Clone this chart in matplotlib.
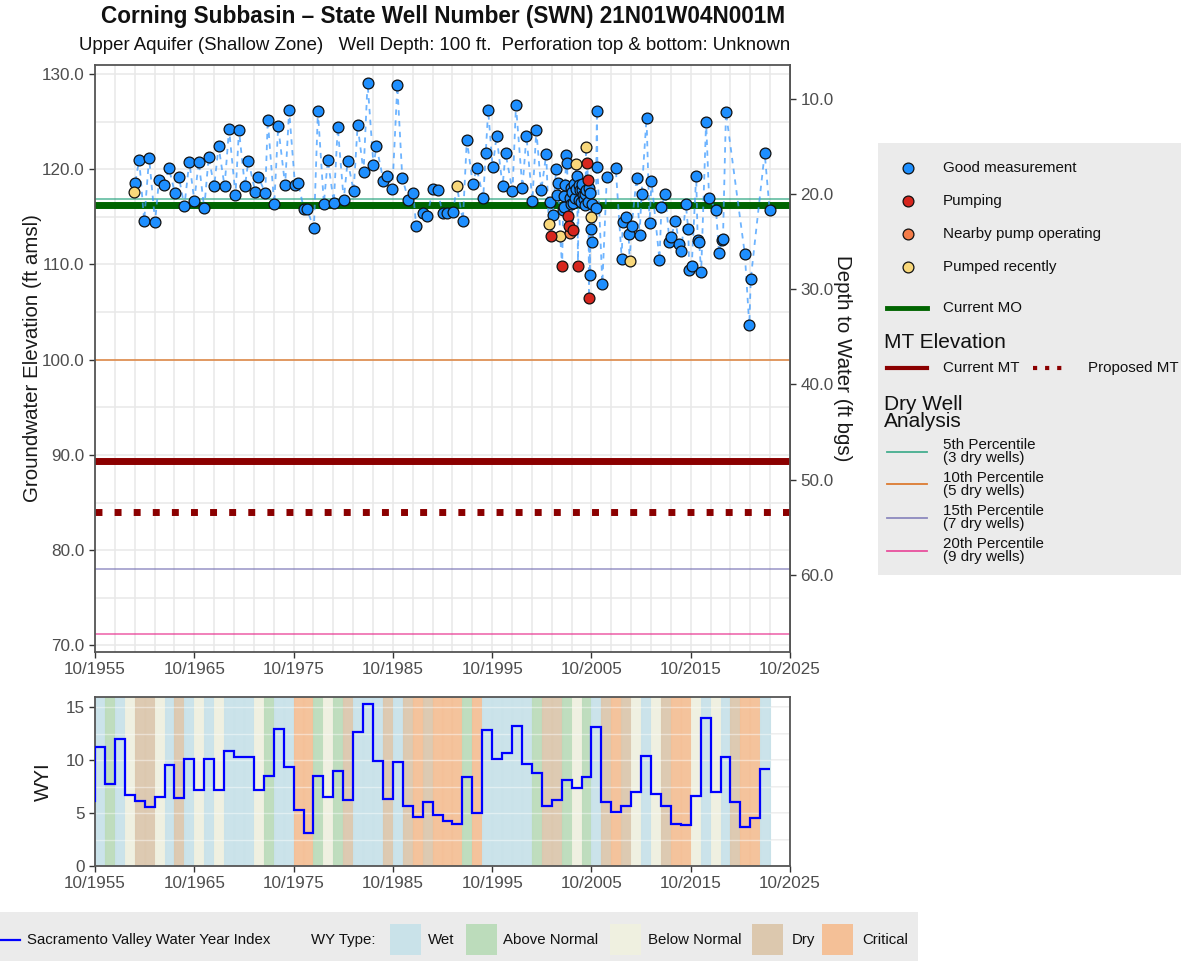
import matplotlib
matplotlib.use("Agg")
import matplotlib.pyplot as plt
from matplotlib.patches import Rectangle
import numpy as np

plt.rcParams['font.family'] = ['Liberation Sans', 'DejaVu Sans']

# ---- well hydrograph data (decimal year, ft amsl, quality code) ----
# G = good measurement, P = pumping, N = nearby pump operating, R = pumped recently
meas_date = [
    1959.65, 1959.8, 1960.2, 1960.7, 1961.2, 1961.8, 1962.2, 1962.7, 1963.2, 1963.8,
    1964.2, 1964.75, 1965.25, 1965.75, 1966.2, 1966.75, 1967.2, 1967.75, 1968.2, 1968.8,
    1969.25, 1969.9, 1970.25, 1970.85, 1971.2, 1971.9, 1972.2, 1972.9, 1973.15, 1973.8,
    1974.2, 1974.9, 1975.3, 1975.9, 1976.2, 1976.8, 1977.1, 1977.8, 1978.2, 1978.8,
    1979.2, 1979.8, 1980.2, 1980.8, 1981.2, 1981.8, 1982.2, 1982.8, 1983.2, 1983.8,
    1984.1, 1984.8, 1985.2, 1985.7, 1986.2, 1986.7, 1987.3, 1987.8, 1988.1, 1988.8,
    1989.2, 1989.8, 1990.25, 1990.75, 1991.25, 1991.8, 1992.2, 1992.8, 1993.2, 1993.8,
    1994.2, 1994.85, 1995.1, 1995.35, 1995.8, 1996.2, 1996.8, 1997.1, 1997.8, 1998.15,
    1998.8, 1999.2, 1999.8, 2000.2, 2000.7, 2001.2, 2001.45, 2001.6, 2001.7, 2001.85,
    2002.2, 2002.3, 2002.4, 2002.6, 2002.8, 2002.9, 2003.0, 2003.2, 2003.3, 2003.4,
    2003.5, 2003.55, 2003.6, 2003.7, 2003.85, 2003.9, 2004.0, 2004.2, 2004.3, 2004.4,
    2004.5, 2004.6, 2004.75, 2004.9, 2005.0, 2005.2, 2005.35, 2005.4, 2005.45, 2005.5,
    2005.55, 2005.6, 2005.65, 2005.7, 2005.75, 2005.8, 2005.85, 2006.2, 2006.3, 2006.35,
    2006.85, 2007.3, 2008.2, 2008.8, 2008.9, 2009.25, 2009.5, 2009.6, 2009.8, 2010.3,
    2010.6, 2010.8, 2011.3, 2011.6, 2011.8, 2012.6, 2012.8, 2013.2, 2013.6, 2013.8,
    2014.2, 2014.6, 2014.8, 2015.25, 2015.5, 2015.6, 2015.85, 2016.3, 2016.45, 2016.6,
    2016.8, 2017.3, 2017.6, 2018.3, 2018.6, 2018.9, 2019.0, 2019.3, 2021.2, 2021.65,
    2021.8, 2023.2, 2023.7,
    # extra readings inside the dense 2002-2005 cluster
    2002.95, 2003.1, 2003.65, 2003.75, 2004.1, 2004.15, 2004.45, 2004.7, 2004.8, 2005.1,
    2005.15, 2005.25,
]
meas_elev = [
    117.6, 118.6, 121.0, 114.6, 121.2, 114.5, 118.9, 118.3, 120.1, 117.5,
    119.2, 116.1, 120.8, 116.7, 120.8, 115.9, 121.3, 118.2, 122.4, 118.2,
    124.2, 117.3, 124.1, 118.2, 120.9, 117.6, 119.2, 117.5, 125.2, 116.3,
    124.5, 118.3, 126.2, 118.3, 118.6, 115.8, 115.8, 113.8, 126.1, 116.4,
    121.0, 116.5, 124.4, 116.8, 120.9, 117.7, 124.6, 119.7, 129.1, 120.4,
    122.4, 118.8, 119.3, 117.9, 128.8, 119.1, 116.8, 117.5, 114.0, 115.4,
    115.1, 117.9, 117.8, 115.4, 115.4, 115.5, 118.2, 114.6, 123.1, 118.5,
    120.1, 117.0, 121.7, 126.2, 120.2, 123.5, 118.2, 121.7, 117.7, 126.7,
    118.0, 123.5, 116.7, 124.1, 117.8, 121.6, 114.2, 116.6, 113.0, 115.2,
    120.0, 117.3, 118.6, 113.0, 109.8, 115.7, 116.0, 121.5, 120.7, 115.1,
    114.0, 113.3, 117.0, 118.0, 113.6, 116.5, 118.4, 120.5, 119.3, 109.8,
    116.8, 117.8, 117.8, 117.3, 116.9, 122.3, 120.7, 116.6, 118.9, 106.5,
    118.0, 108.9, 117.5, 115.0, 113.7, 116.4, 112.4, 115.9, 126.1, 120.2,
    108.0, 119.2, 120.1, 110.6, 114.5, 115.0, 113.2, 110.4, 114.0, 119.1,
    113.1, 117.4, 125.4, 114.4, 118.8, 110.5, 116.0, 117.4, 112.4, 112.9,
    114.6, 112.1, 111.4, 116.4, 113.7, 109.4, 109.8, 119.3, 112.6, 112.4,
    109.2, 125.0, 117.0, 115.7, 111.2, 112.6, 112.7, 126.0, 111.1, 103.6,
    108.5, 121.7, 115.7,
    117.2, 118.3, 116.3, 117.6, 117.0, 117.9, 118.3, 116.6, 118.5, 117.4,
    116.2, 117.8,
]
meas_code = [
    "R", "G", "G", "G", "G", "G", "G", "G", "G", "G",
    "G", "G", "G", "G", "G", "G", "G", "G", "G", "G",
    "G", "G", "G", "G", "G", "G", "G", "G", "G", "G",
    "G", "G", "G", "G", "G", "G", "G", "G", "G", "G",
    "G", "G", "G", "G", "G", "G", "G", "G", "G", "G",
    "G", "G", "G", "G", "G", "G", "G", "G", "G", "G",
    "G", "G", "G", "G", "G", "G", "R", "G", "G", "G",
    "G", "G", "G", "G", "G", "G", "G", "G", "G", "G",
    "G", "G", "G", "G", "G", "G", "R", "G", "P", "G",
    "G", "G", "G", "R", "P", "G", "G", "G", "G", "P",
    "P", "N", "G", "G", "P", "G", "G", "R", "G", "P",
    "G", "G", "G", "G", "G", "R", "P", "G", "P", "P",
    "G", "G", "G", "R", "G", "G", "G", "G", "G", "G",
    "G", "G", "G", "G", "G", "G", "G", "R", "G", "G",
    "G", "G", "G", "G", "G", "G", "G", "G", "G", "G",
    "G", "G", "G", "G", "G", "G", "G", "G", "G", "G",
    "G", "G", "G", "G", "G", "G", "G", "G", "G", "G",
    "G", "G", "G",
    "G", "G", "G", "G", "G", "G", "G", "G", "G", "G",
    "G", "G",
]

GSE = 137.4          # ground surface elevation (ft amsl)
current_mo = 116.2
current_mt = 89.4
proposed_mt = 84.0
dry_well_elev = [116.9, 100.0, 78.0, 71.2]
dry_well_labels = ["5th Percentile\n(3 dry wells)", "10th Percentile\n(5 dry wells)",
                   "15th Percentile\n(7 dry wells)", "20th Percentile\n(9 dry wells)"]
dry_well_colors = ["#1b9e77", "#d95f02", "#7570b3", "#e7298a"]

# ---- Sacramento Valley water year index ----
wy_years = list(range(1955, 2024))
wy_index = [
    6.1, 11.2, 7.7, 12.0, 6.7, 6.1, 5.6, 6.5, 9.5, 6.4,
    10.1, 7.2, 10.1, 7.2, 10.9, 10.3, 10.3, 7.2, 8.5, 12.9,
    9.3, 5.3, 3.1, 8.5, 6.5, 9.0, 6.2, 12.6, 15.3, 9.9,
    6.3, 9.8, 5.7, 4.6, 6.0, 4.8, 4.2, 4.0, 8.4, 5.0,
    12.8, 10.1, 10.7, 13.2, 9.6, 8.8, 5.7, 6.2, 8.1, 7.4,
    8.4, 13.1, 6.0, 5.1, 5.7, 7.0, 10.4, 6.8, 5.7, 4.0,
    3.9, 6.6, 14.0, 7.0, 10.3, 6.0, 3.7, 4.5, 9.2,
]
wy_type = [
    "D", "W", "AN", "W", "BN", "D", "D", "BN", "W", "D",
    "W", "BN", "W", "BN", "W", "W", "W", "BN", "AN", "W",
    "W", "C", "C", "AN", "BN", "AN", "D", "W", "W", "W",
    "D", "W", "D", "C", "D", "C", "C", "C", "AN", "C",
    "W", "W", "W", "W", "W", "AN", "D", "D", "AN", "BN",
    "AN", "W", "D", "C", "D", "BN", "W", "BN", "D", "C",
    "C", "BN", "W", "BN", "W", "D", "C", "C", "W",
]
wy_type_names = ["Wet", "Above Normal", "Below Normal", "Dry", "Critical"]
wy_type_codes = ["W", "AN", "BN", "D", "C"]
wy_type_colors = {"W": "#c9e2e9", "AN": "#bcdcbb", "BN": "#eff0e0", "D": "#dcc8ae", "C": "#f4c097"}

qual_style = {
    "G": ("#1e8fff", "Good measurement"),
    "P": ("#d7261e", "Pumping"),
    "N": ("#f47c48", "Nearby pump operating"),
    "R": ("#f8d77a", "Pumped recently"),
}

W, H = 1181, 961
fig = plt.figure(figsize=(W / 100, H / 100), dpi=100, facecolor="white")


def frac(x0, y0, x1, y1):
    return [x0 / W, 1 - y1 / H, (x1 - x0) / W, (y1 - y0) / H]


XMIN, XMAX = 1955.75, 2025.75
major_x = np.arange(XMIN, XMAX + 0.1, 10)
minor_x = np.arange(XMIN, XMAX + 0.1, 2)
xlabels = [f"10/{int(x)}" for x in major_x]
TICK_C = "#4d4d4d"
GRID_C = "#e8e8e8"
TICK_FS = 12.3


def style_axes(ax):
    for s in ax.spines.values():
        s.set_color("#555555")
        s.set_linewidth(1.3)
    ax.tick_params(colors="#333333", labelcolor=TICK_C, labelsize=TICK_FS, length=4, width=1)
    ax.tick_params(which="minor", length=0)
    ax.set_xlim(XMIN, XMAX)
    ax.set_xticks(major_x)
    ax.set_xticklabels(xlabels)
    ax.set_xticks(minor_x, minor=True)


# ---------------- top: hydrograph ----------------
ax = fig.add_axes(frac(95, 65, 790, 652))
style_axes(ax)
ax.set_ylim(69.3, 130.95)
ax.set_yticks(np.arange(70, 131, 10))
ax.set_yticklabels([f"{v:.1f}" for v in np.arange(70, 131, 10)])
ax.set_yticks(np.arange(70, 131, 5), minor=True)
ax.grid(True, which="both", color=GRID_C, lw=1.1, zorder=0)
ax.set_axisbelow(True)

for y, c in zip(dry_well_elev, dry_well_colors):
    ax.axhline(y, color=c, lw=1.1, alpha=0.75, zorder=2)
ax.axhline(current_mo, color="#006400", lw=5, zorder=2)
ax.axhline(current_mt, color="#8b0000", lw=5, zorder=2)
ax.axhline(proposed_mt, color="#8b0000", lw=5, ls=(0, (1, 1.75)), zorder=2)

order = np.argsort(meas_date, kind="stable")
dates = np.array(meas_date)[order]
elev = np.array(meas_elev)[order]
codes = np.array(meas_code)[order]
ax.plot(dates, elev, color="#3d9bff", lw=1.3, ls=(0, (3, 3)), alpha=0.75, zorder=3)
for code in ["G", "R", "N", "P"]:
    m = codes == code
    ax.plot(dates[m], elev[m], "o", ms=7.8, mfc=qual_style[code][0], mec="#111111",
            mew=0.9, ls="none", zorder=4)

ax.set_ylabel("Groundwater Elevation (ft amsl)", fontsize=14.8, color="#1a1a1a", labelpad=0)
sec = ax.secondary_yaxis("right", functions=(lambda e: GSE - e, lambda d: GSE - d))
sec.set_yticks(np.arange(10, 61, 10))
sec.set_yticklabels([f"{v:.1f}" for v in np.arange(10, 61, 10)])
sec.tick_params(colors="#333333", labelcolor=TICK_C, labelsize=TICK_FS, length=4, width=1)
sec.spines["right"].set_color("#555555")
sec.spines["right"].set_linewidth(1.3)
sec.set_ylabel("Depth to Water (ft bgs)", fontsize=14.8, color="#1a1a1a", rotation=270,
               labelpad=13)

fig.text(443 / W, 1 - 17 / H, "Corning Subbasin \u2013 State Well Number (SWN) 21N01W04N001M",
         ha="center", va="center", fontsize=16.3, fontweight="bold", color="#111111")
fig.text(435 / W, 1 - 45 / H,
         "Upper Aquifer (Shallow Zone)   Well Depth: 100 ft.  Perforation top & bottom: Unknown",
         ha="center", va="center", fontsize=13.4, color="#111111")

# ---------------- bottom: WYI ----------------
bx = fig.add_axes(frac(95, 697, 790, 866))
style_axes(bx)
bx.set_ylim(0, 15.95)
bx.set_yticks([0, 5, 10, 15])
bx.set_yticks(np.arange(0, 16, 2.5), minor=True)
bx.grid(True, which="both", color=GRID_C, lw=1.1, zorder=0)
bx.set_axisbelow(True)
for yr, t in zip(wy_years, wy_type):
    col = wy_type_colors[t]
    bx.axvspan(yr - 0.25, yr + 0.75, facecolor=col, edgecolor=col, lw=0.8, alpha=0.95, zorder=1)
for y in np.arange(2.5, 16, 2.5):
    bx.axhline(y, color="white", lw=1.0, alpha=0.45, zorder=1.5)
edges = [y - 0.25 for y in wy_years] + [wy_years[-1] + 0.75]
bx.stairs(wy_index, edges, baseline=None, color="#0000ff", lw=1.6, zorder=3)
bx.set_ylabel("WYI", fontsize=14.8, color="#1a1a1a", labelpad=9)

# ---------------- right legend ----------------
lax = fig.add_axes(frac(878, 143, 1181, 575))
lax.set_xlim(878, 1181)
lax.set_ylim(575, 143)
lax.set_facecolor("#ebebeb")
lax.set_xticks([])
lax.set_yticks([])
for s in lax.spines.values():
    s.set_visible(False)
LEG_FS = 10.9
for yy, code in zip([168, 201, 234, 267], ["G", "P", "N", "R"]):
    c, lab = qual_style[code]
    lax.plot([907.7], [yy], "o", ms=7.8, mfc=c, mec="#111111", mew=0.9)
    lax.text(942.7, yy, lab, va="center", fontsize=LEG_FS, color="#111111")
lax.plot([887, 927], [308.3, 308.3], color="#006400", lw=3.5)
lax.text(942.7, 308.3, "Current MO", va="center", fontsize=LEG_FS, color="#111111")
lax.text(884, 342.7, "MT Elevation", va="center", fontsize=15, color="#111111")
lax.plot([887, 927], [368.3, 368.3], color="#8b0000", lw=3)
lax.text(942.7, 368.3, "Current MT", va="center", fontsize=LEG_FS, color="#111111")
lax.plot([1033, 1064], [368.3, 368.3], color="#8b0000", lw=3, ls=(0, (1, 1.9)))
lax.text(1087.7, 368.3, "Proposed MT", va="center", fontsize=LEG_FS, color="#111111")
lax.text(884, 413, "Dry Well\nAnalysis", va="center", fontsize=15, color="#111111",
         linespacing=0.92)
for yy, c, lab in zip([451.7, 484.3, 517.7, 550.7], dry_well_colors, dry_well_labels):
    lax.plot([887, 927], [yy, yy], color=c, lw=1.3, alpha=0.8)
    lax.text(942.7, yy, lab, va="center", fontsize=LEG_FS, color="#111111", linespacing=0.92)

# ---------------- bottom legend ----------------
gax = fig.add_axes(frac(0, 912, 918, 961))
gax.set_xlim(0, 918)
gax.set_ylim(961, 912)
gax.set_facecolor("#ebebeb")
gax.set_xticks([])
gax.set_yticks([])
for s in gax.spines.values():
    s.set_visible(False)
gax.plot([0, 20], [940, 940], color="#0000ff", lw=1.6)
gax.text(27, 940, "Sacramento Valley Water Year Index", va="center", fontsize=10.8, color="#111111")
gax.text(311, 940, "WY Type:", va="center", fontsize=10.8, color="#111111")
sw_x = [390, 466, 610, 752, 822]
tx_x = [428, 503, 648, 792, 862]
for code, name, sx, tx in zip(wy_type_codes, wy_type_names, sw_x, tx_x):
    gax.add_patch(Rectangle((sx, 924), 31, 31, facecolor=wy_type_colors[code], edgecolor="none"))
    gax.text(tx, 940, name, va="center", fontsize=10.8, color="#111111")

fig.savefig("out.png", dpi=100, facecolor="white")
